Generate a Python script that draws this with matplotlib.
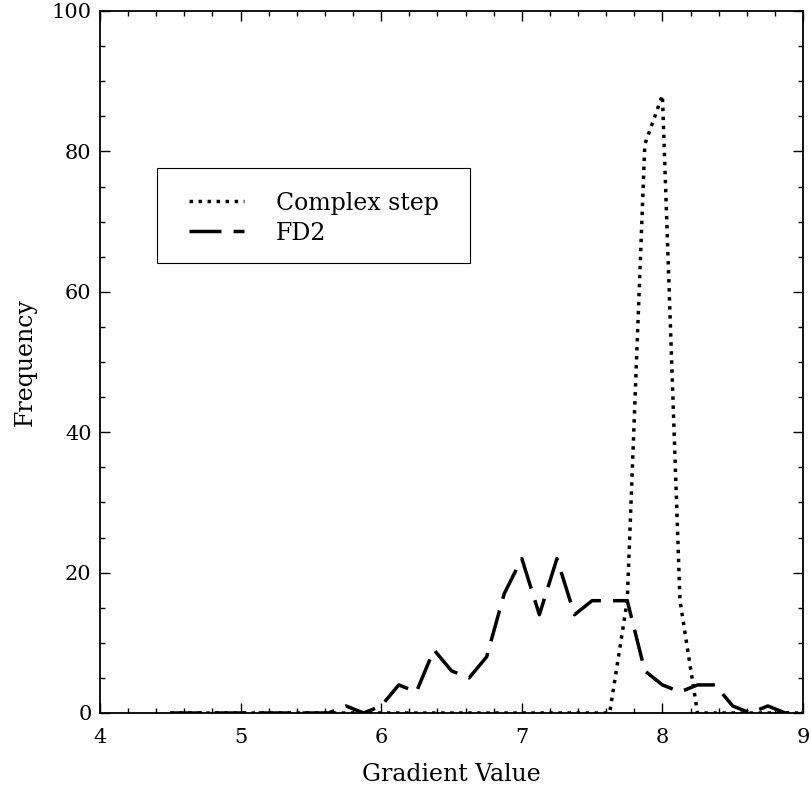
import numpy as np
import matplotlib
matplotlib.use("Agg")
import matplotlib.pyplot as plt
from matplotlib.patches import Rectangle

# bin centres of the histogram (step 0.125 from 4.5 to 9.0)
gradient_values = [4.5 + 0.125 * k for k in range(37)]

complex_step = [0, 0, 0, 0, 0, 0, 0, 0, 0, 0,
                0, 0, 0, 0, 0, 0, 0, 0, 0, 0,
                0, 0, 0, 0, 0, 0, 16, 81, 88, 16,
                0, 0, 0, 0, 0, 0, 0]

fd2 = [0, 0, 0, 0, 0, 0, 0, 0, 0, 0,
       1, 0, 1, 4, 3, 9, 6, 5, 8, 17,
       22, 14, 22, 14, 16, 16, 16, 6, 4, 3,
       4, 4, 1, 0, 1, 0, 0]

series_labels = ["Complex step", "FD2"]
x_ticks = [4, 5, 6, 7, 8, 9]
y_ticks = [0, 20, 40, 60, 80, 100]

plt.rcParams['font.family'] = ['DejaVu Serif']
plt.rcParams['mathtext.fontset'] = 'dejavuserif'

fig = plt.figure(figsize=(8.11, 7.88), dpi=100)
ax = fig.add_axes([100/811, 1 - 713/788, 703/811, 702/788])

ax.plot(gradient_values, complex_step, color='black', lw=2.5,
        linestyle=(0, (1, 1.6)), dash_capstyle='butt', label=series_labels[0])
ax.plot(gradient_values, fd2, color='black', lw=2.5,
        linestyle=(0, (9.2, 3.5)), dash_capstyle='butt', label=series_labels[1])

ax.set_xlim(4, 9)
ax.set_ylim(0, 100)
ax.set_xticks(x_ticks)
ax.set_yticks(y_ticks)
ax.set_xticks(np.arange(4, 9.001, 0.2), minor=True)
ax.set_yticks(np.arange(0, 100.001, 5), minor=True)
ax.tick_params(which='both', direction='in', top=True, right=True, width=1.0)
ax.tick_params(which='major', length=7.5, labelsize=15)
ax.tick_params(which='minor', length=3.5)
ax.tick_params(axis='x', which='major', pad=11)
ax.tick_params(axis='y', which='major', pad=6)
for s in ax.spines.values():
    s.set_linewidth(1.3)

ax.set_xlabel("Gradient Value", fontsize=17, labelpad=11)
ax.set_ylabel("Frequency", fontsize=17, labelpad=11)

# legend box
ax.add_patch(Rectangle((157, 788 - 263), 313, 95, transform=None,
                       fill=False, edgecolor='black', lw=0.8, zorder=5))
leg = ax.legend(loc='upper left', bbox_to_anchor=(172/811, 1 - 175/788),
                bbox_transform=fig.transFigure, frameon=False,
                fontsize=17, handlelength=2.35, handletextpad=1.35,
                labelspacing=0.3, borderpad=0.2)

fig.savefig("out.png", dpi=100)
